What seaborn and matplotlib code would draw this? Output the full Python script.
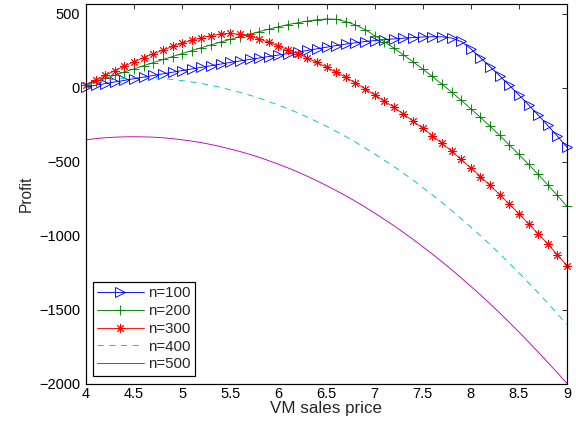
import numpy as np
import pandas as pd
import matplotlib
matplotlib.use("Agg")
import matplotlib.pyplot as plt
import seaborn as sns

price = [round(4.0 + 0.1 * i, 1) for i in range(51)]

n100 = [5, 16, 27, 38, 49, 60, 71, 82, 93, 104, 115, 126, 137, 148, 159, 170,
        180, 190, 200, 210, 220, 230, 240, 251, 262, 273, 284, 294, 303, 311,
        318, 324, 329, 334, 338, 342, 344, 343, 335, 312, 262, 202, 141, 79,
        15, -50, -117, -186, -256, -328, -402]
n200 = [17, 40, 62, 84, 106, 127, 148, 169, 190, 210, 230, 250, 270, 289, 308,
        326, 343, 361, 378, 395, 411, 426, 438, 450, 459, 464, 462, 446, 424,
        392, 352, 310, 267, 221, 174, 126, 75, 23, -30, -86, -143, -201, -261,
        -323, -387, -452, -519, -587, -657, -729, -803]
n300 = [18, 50, 83, 115, 146, 175, 203, 229, 254, 278, 300, 320, 338, 352, 362,
        366, 360, 349, 329, 306, 282, 257, 230, 201, 170, 138, 104, 69, 32, -7,
        -48, -90, -133, -179, -226, -275, -325, -377, -430, -486, -543, -601,
        -661, -723, -787, -852, -919, -987, -1057, -1129, -1203]
n400 = [15, 32, 46, 57, 64, 68, 67, 65, 61, 55, 47, 38, 28, 15, 1, -15, -32,
        -51, -71, -94, -118, -143, -170, -199, -230, -262, -296, -331, -368,
        -407, -448, -490, -533, -579, -626, -675, -725, -777, -830, -886, -943,
        -1001, -1061, -1123, -1187, -1252, -1319, -1387, -1457, -1529, -1603]
n500 = [-353, -345, -339, -335, -333, -332, -333, -335, -339, -345, -353, -362,
        -372, -385, -399, -415, -432, -451, -471, -494, -518, -543, -570, -599,
        -630, -662, -696, -731, -768, -807, -848, -890, -933, -979, -1026,
        -1075, -1125, -1177, -1230, -1286, -1343, -1401, -1461, -1523, -1587,
        -1652, -1719, -1787, -1857, -1927, -2000]

labels = ["n=100", "n=200", "n=300", "n=400", "n=500"]
series = [n100, n200, n300, n400, n500]
colors = [(0, 0, 1), (0, 0.5, 0), (1, 0, 0), (0, 0.75, 0.75), (0.75, 0, 0.75)]
markers = [">", "+", (8, 2, 0), "None", "None"]
msizes = [10, 10, 8.5, 1, 1]
linestyles = ["-", "-", "-", (0, (7, 6)), "-"]

sns.set_style("white")
plt.rcParams["font.family"] = ["Liberation Sans", "DejaVu Sans"]

fig = plt.figure(figsize=(576 / 72, 430 / 72), dpi=72)
ax = fig.add_axes([86 / 576, 1 - 383.5 / 430, (567 - 86) / 576, (383.5 - 4) / 430])

for lab, vals, col, mk, ms, ls in zip(labels, series, colors, markers, msizes, linestyles):
    df = pd.DataFrame({"price": price, "profit": vals})
    sns.lineplot(data=df, x="price", y="profit", ax=ax, label=lab,
                 estimator=None, sort=False, color=col, linestyle=ls,
                 linewidth=0.9, marker=mk, markersize=ms,
                 markeredgecolor=col, markerfacecolor="none",
                 markeredgewidth=0.9, clip_on=False)

for line, col in zip(ax.lines, colors):
    line.set_color(col)
    line.set_markeredgecolor(col)

ax.set_xlim(4, 9)
ax.set_ylim(-2000, 565)
ax.set_xticks([4, 4.5, 5, 5.5, 6, 6.5, 7, 7.5, 8, 8.5, 9])
ax.set_xticklabels(["4", "4.5", "5", "5.5", "6", "6.5", "7", "7.5", "8", "8.5", "9"])
ax.set_yticks([-2000, -1500, -1000, -500, 0, 500])
ax.tick_params(direction="in", top=True, right=True, length=5, width=0.8,
               labelsize=14.5, colors="black", pad=4)
ax.tick_params(axis="y", pad=6)
for s in ax.spines.values():
    s.set_visible(True)
    s.set_color("black")
    s.set_linewidth(1.2)
ax.set_xlabel("VM sales price", fontsize=17, labelpad=0)
ax.set_ylabel("Profit", fontsize=15.5, labelpad=5)

leg = ax.legend(loc="lower left", bbox_to_anchor=(0.014, 0.02), fontsize=15,
                frameon=True, fancybox=False, edgecolor="black", framealpha=1,
                handlelength=3.1, handletextpad=0.3, borderpad=0.3,
                labelspacing=0.25, borderaxespad=0)
leg.get_frame().set_linewidth(1.2)

fig.savefig("out.png", dpi=72)
